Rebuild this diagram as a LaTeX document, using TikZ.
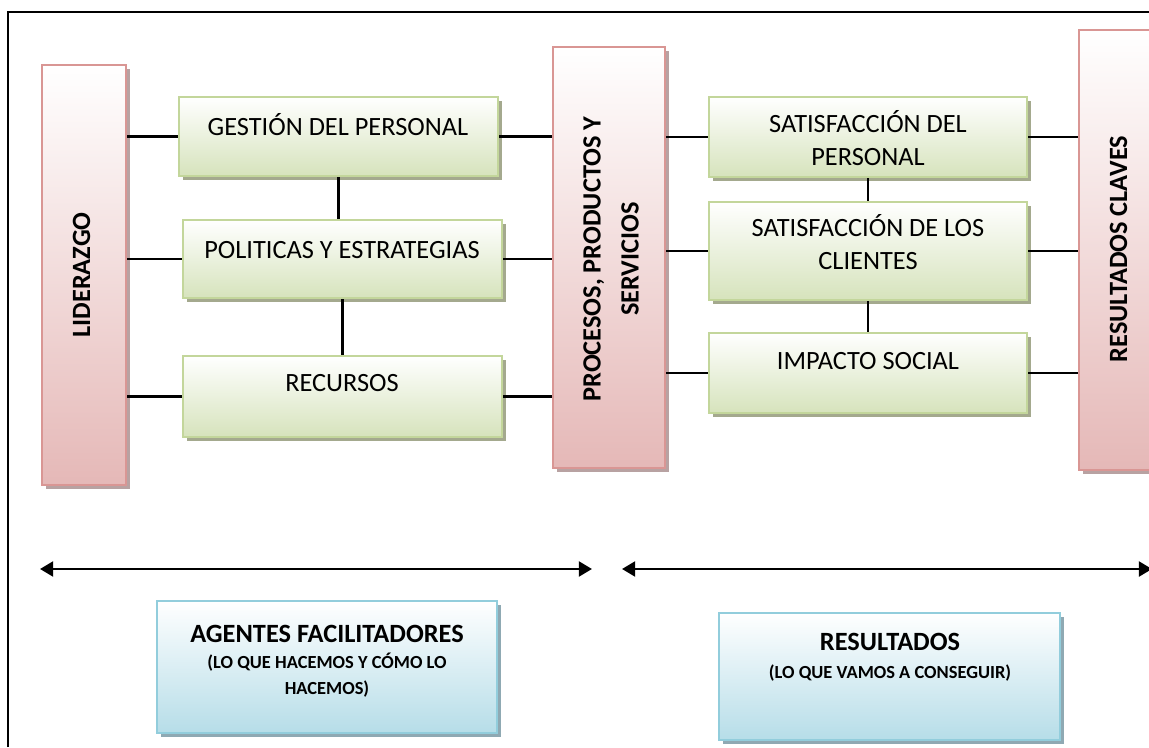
\documentclass[tikz,border=0pt]{standalone}
\usepackage{fontspec}
\setmainfont{Carlito}
\usepackage{xcolor}
\usetikzlibrary{arrows.meta,shadows,fit}
\definecolor{verdeborde}{HTML}{C3D69B}
\definecolor{verdefondo}{HTML}{D6E3BC}
\definecolor{verdesombra}{HTML}{A4A98E}
\definecolor{rosaborde}{HTML}{D99694}
\definecolor{rosafondo}{HTML}{E5B8B7}
\definecolor{rosasombra}{HTML}{B8A2A2}
\definecolor{azulborde}{HTML}{92CDDC}
\definecolor{azulfondo}{HTML}{B6DDE8}
\definecolor{azulsombra}{HTML}{8FA9B3}

\begin{document}
\begin{tikzpicture}[x=0.02cm, y=-0.02cm,
  caja/.style={draw=verdeborde, line width=1.2pt, top color=white, bottom color=verdefondo, inner sep=0pt,
    drop shadow={shadow xshift=2.5pt, shadow yshift=-2.5pt, fill=verdesombra, opacity=1}},
  barra/.style={draw=rosaborde, line width=1.2pt, top color=white, bottom color=rosafondo, inner sep=0pt,
    drop shadow={shadow xshift=2.5pt, shadow yshift=-2.5pt, fill=rosasombra, opacity=1}},
  cajaazul/.style={draw=azulborde, line width=1.2pt, top color=white, bottom color=azulfondo, inner sep=0pt,
    drop shadow={shadow xshift=2.5pt, shadow yshift=-2.5pt, fill=azulsombra, opacity=1}},
  texto/.style={font=\fontsize{15}{18.5}\selectfont, anchor=base, align=center, inner sep=0pt},
  vert/.style={font=\fontsize{15}{21.5}\selectfont\bfseries, rotate=90, anchor=base, align=center, inner sep=0pt},
  titulo/.style={font=\fontsize{15}{18}\selectfont\bfseries, anchor=base, inner sep=0pt},
  sub/.style={font=\fontsize{10.5}{14.7}\selectfont\bfseries, anchor=base, align=center, inner sep=0pt},
  linea/.style={line width=1.2pt},
  flecha/.style={line width=1.5pt, {Triangle[length=7.5pt,width=8.5pt]}-{Triangle[length=7.5pt,width=8.5pt]}}]
\useasboundingbox (0,0) rectangle (1149,747);
% marco
\draw[linea] (8,747) -- (8,12) -- (1149,12);

% agentes facilitadores
\node[barra, fit={(42,65) (126,485)}] (lider) {};
\node[vert] (lider-t) at (90,275) {LIDERAZGO};
\node[caja, fit={(179,97) (498,176)}] (gestion) {};
\node[texto] (gestion-t) at (338,135.5) {GESTIÓN DEL PERSONAL};
\node[caja, fit={(183,220) (502,298)}] (politicas) {};
\node[texto] (politicas-t) at (342,258.5) {POLITICAS Y ESTRATEGIAS};
\node[caja, fit={(183,356) (502,437)}] (recursos) {};
\node[texto] (recursos-t) at (342,391) {RECURSOS};
\node[barra, fit={(553,47) (665,468)}] (procesos) {};
\node[vert] (procesos-t) at (638.5,259) {PROCESOS, PRODUCTOS Y\\SERVICIOS};

% resultados
\node[caja, fit={(709,97) (1027,177)}] (satper) {};
\node[texto] (satper-t) at (868,165.5) {SATISFACCIÓN DEL\\PERSONAL};
\node[caja, fit={(709,202) (1027,300)}] (satcli) {};
\node[texto] (satcli-t) at (868,269) {SATISFACCIÓN DE LOS\\CLIENTES};
\node[caja, fit={(709,333) (1027,413)}] (impacto) {};
\node[texto] (impacto-t) at (868,369) {IMPACTO SOCIAL};
\node[barra, fit={(1079,30) (1155,470)}] (claves) {};
\node[vert] (claves-t) at (1127,249) {RESULTADOS CLAVES};

% conexiones
\draw[linea] (lider.east |- gestion.west) -- (gestion.west);
\draw[linea] (lider.east |- politicas.west) -- (politicas.west);
\draw[linea] (lider.east |- recursos.west) -- (recursos.west);
\draw[linea] (gestion.east) -- (gestion.east -| procesos.west);
\draw[linea] (politicas.east) -- (politicas.east -| procesos.west);
\draw[linea] (recursos.east) -- (recursos.east -| procesos.west);
\draw[linea] (gestion.south) -- (gestion.south |- politicas.north);
\draw[linea] (politicas.south) -- (politicas.south |- recursos.north);
\draw[linea] (procesos.east |- satper.west) -- (satper.west);
\draw[linea] (procesos.east |- satcli.west) -- (satcli.west);
\draw[linea] (procesos.east |- impacto.west) -- (impacto.west);
\draw[linea] (satper.east) -- (satper.east -| claves.west);
\draw[linea] (satcli.east) -- (satcli.east -| claves.west);
\draw[linea] (impacto.east) -- (impacto.east -| claves.west);
\draw[linea] (satper.south) -- (satcli.north);
\draw[linea] (satcli.south) -- (impacto.north);

% flechas
\coordinate (fa-izq) at (40,569);
\coordinate (fa-der) at (592,569);
\coordinate (fr-izq) at (622,569);
\coordinate (fr-der) at (1152,569);
\draw[flecha] (fa-izq) -- (fa-der);
\draw[flecha] (fr-izq) -- (fr-der);

% cajas inferiores
\node[cajaazul, fit={(157,601) (497,733)}] (agentes) {};
\node[titulo] (agentes-t) at (327,642.5) {AGENTES FACILITADORES};
\node[sub] (agentes-s) at (327,694) {(LO QUE HACEMOS Y CÓMO LO\\HACEMOS)};
\node[cajaazul, fit={(719,613) (1060,740)}] (result) {};
\node[titulo] (result-t) at (890,650.5) {RESULTADOS};
\node[sub] (result-s) at (890,678.7) {(LO QUE VAMOS A CONSEGUIR)};
\end{tikzpicture}
\end{document}
